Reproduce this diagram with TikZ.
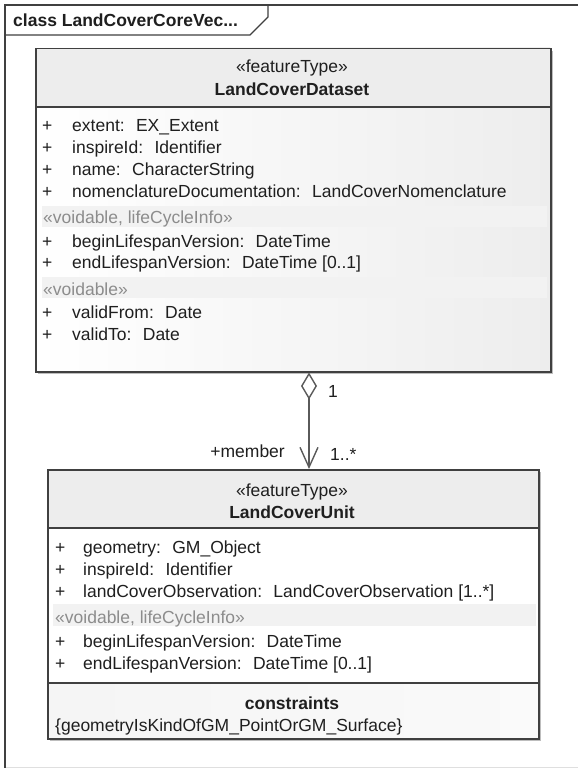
\documentclass[tikz,border=0pt]{standalone}
\usepackage{fontspec}
\setmainfont{Liberation Sans}
\usetikzlibrary{arrows.meta}
\definecolor{umlline}{HTML}{404040}
\definecolor{umlhead}{HTML}{EDEDED}
\definecolor{umlband}{HTML}{F2F2F2}
\definecolor{umlshadow}{HTML}{BDBDBD}
\definecolor{umlstereo}{HTML}{8C8C8C}
\definecolor{umlconn}{HTML}{5A5A5A}
\tikzset{
  txt/.style={inner sep=0pt, font=\fontsize{17.5}{20}\selectfont, text=black!88},
  attr/.style={txt, anchor=base west},
  stereo/.style={txt, anchor=base west, text=umlstereo},
  headtxt/.style={txt, anchor=base},
  headbold/.style={txt, anchor=base, font=\fontsize{17.5}{20}\selectfont\bfseries},
  classbox/.style={draw=umlline, line width=1.5pt, inner sep=0pt, anchor=north west},
  divider/.style={umlline, line width=1.5pt},
  assoc/.style={umlconn, line width=1.4pt, {Diamond[open, fill=white, length=27pt, width=16pt]}-{Straight Barb[length=20pt, width=18pt]}}
}
\begin{document}
\begin{tikzpicture}[x=1pt, y=-1pt]
\useasboundingbox (0,0) rectangle (578,768);
% frame and tab
\fill[white] (0,0) rectangle (578,768);
\draw[gray!25] (5,767) -- (578,767);
\draw[umlline, line width=1.2pt] (5,768) -- (5,5) -- (578,5);
\draw[umlline, line width=1.2pt] (5,35) -- (250,35) -- (268,17) -- (268,5);
\node[txt, anchor=base west, font=\fontsize{17.5}{20}\selectfont\bfseries] (title) at (13,27) {class LandCoverCoreVec...};

% upper class
\fill[umlshadow] (38,51) rectangle (553,374);
\shade[left color=white, right color=gray!14] (35,48) rectangle (550,371);
\fill[umlhead] (35,48) rectangle (550,107);
\fill[umlband] (42,206) rectangle (547,227);
\fill[umlband] (42,277) rectangle (547,298);
\node[classbox, minimum width=515pt, minimum height=323pt] (dataset) at (35,48) {};
\draw[divider] (35,107) -- (550,107);
\node[headtxt] (dsStereo) at (292,73) {«featureType»};
\node[headbold] (dsName) at (292,95) {LandCoverDataset};
\node[attr] (dsP1) at (42,131) {+};
\node[attr] (dsA1) at (72,131) {extent:~ EX\_Extent};
\node[attr] (dsP2) at (42,153) {+};
\node[attr] (dsA2) at (72,153) {inspireId:~ Identifier};
\node[attr] (dsP3) at (42,175) {+};
\node[attr] (dsA3) at (72,175) {name:~ CharacterString};
\node[attr] (dsP4) at (42,197) {+};
\node[attr] (dsA4) at (72,197) {nomenclatureDocumentation:~ LandCoverNomenclature};
\node[stereo] (dsS1) at (43,223) {«voidable, lifeCycleInfo»};
\node[attr] (dsP5) at (42,247) {+};
\node[attr] (dsA5) at (72,247) {beginLifespanVersion:~ DateTime};
\node[attr] (dsP6) at (42,268) {+};
\node[attr] (dsA6) at (72,268) {endLifespanVersion:~ DateTime [0..1]};
\node[stereo] (dsS2) at (43,295) {«voidable»};
\node[attr] (dsP7) at (42,318) {+};
\node[attr] (dsA7) at (72,318) {validFrom:~ Date};
\node[attr] (dsP8) at (42,340) {+};
\node[attr] (dsA8) at (72,340) {validTo:~ Date};

% lower class
\fill[umlshadow] (50,472) rectangle (541,741);
\fill[white] (47,469) rectangle (538,738);
\fill[umlhead] (47,469) rectangle (538,528);
\fill[umlband] (53,604) rectangle (536,626);
\shade[left color=gray!8, right color=gray!4] (47,683) rectangle (538,738);
\node[classbox, minimum width=491pt, minimum height=269pt] (unit) at (47,469) {};
\draw[divider] (47,528) -- (538,528);
\draw[divider] (47,683) -- (538,683);
\node[headtxt] (uStereo) at (292,496) {«featureType»};
\node[headbold] (uName) at (292,518) {LandCoverUnit};
\node[attr] (uP1) at (55,553) {+};
\node[attr] (uA1) at (83,553) {geometry:~ GM\_Object};
\node[attr] (uP2) at (55,575) {+};
\node[attr] (uA2) at (83,575) {inspireId:~ Identifier};
\node[attr] (uP3) at (55,597) {+};
\node[attr] (uA3) at (83,597) {landCoverObservation:~ LandCoverObservation [1..*]};
\node[stereo] (uS1) at (55,623) {«voidable, lifeCycleInfo»};
\node[attr] (uP4) at (55,647) {+};
\node[attr] (uA4) at (83,647) {beginLifespanVersion:~ DateTime};
\node[attr] (uP5) at (55,669) {+};
\node[attr] (uA5) at (83,669) {endLifespanVersion:~ DateTime [0..1]};
\node[headbold] (uCons) at (292,709) {constraints};
\node[attr] (uC1) at (55,731) {\{geometryIsKindOfGM\_PointOrGM\_Surface\}};

% association
\coordinate (assocX) at (309,420);
\draw[assoc] (dataset.south -| assocX) -- (unit.north -| assocX);
\node[attr] (multDs) at (328,397) {1};
\node[attr] (multU) at (330,460) {1..*};
\node[txt, anchor=base east] (role) at (285,457) {+member};
\end{tikzpicture}
\end{document}
